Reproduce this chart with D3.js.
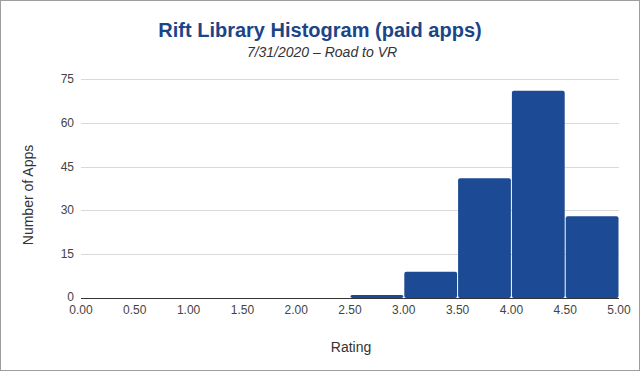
<!DOCTYPE html>
<html>
<head>
<meta charset="utf-8">
<script src="https://cdn.jsdelivr.net/npm/d3@7"></script>
<style>
  html, body { margin: 0; padding: 0; background: #fff; }
  svg { display: block; font-family: Arial, "Liberation Sans", sans-serif; }
</style>
</head>
<body>
<script>
const width = 640;
const height = 371;

// histogram bins (rating) and counts
const binStarts = [0, 0.5, 1.0, 1.5, 2.0, 2.5, 3.0, 3.5, 4.0, 4.5];
const binSize = 0.5;
const counts = [0, 0, 0, 0, 0, 1, 9, 41, 71, 28];
const yTicks = [0, 15, 30, 45, 60, 75];
const xTicks = [0, 0.5, 1, 1.5, 2, 2.5, 3, 3.5, 4, 4.5, 5];

const svg = d3.select("body")
  .append("svg")
  .attr("width", width)
  .attr("height", height);

// outer frame
svg.append("rect")
  .attr("x", 0.5).attr("y", 0.5)
  .attr("width", width - 1).attr("height", height - 1)
  .attr("fill", "#fff")
  .attr("stroke", "#9e9e9e");

const x = d3.scaleLinear().domain([0, 5]).range([81, 619]);
const y = d3.scaleLinear().domain([0, 75]).range([298, 79]);

// gridlines
svg.append("g")
  .selectAll("line")
  .data(yTicks.filter(d => d > 0))
  .enter()
  .append("line")
  .attr("x1", x(0)).attr("x2", x(5))
  .attr("y1", d => Math.round(y(d)) + 0.5)
  .attr("y2", d => Math.round(y(d)) + 0.5)
  .attr("stroke", "#d9d9d9");

// bars
const bars = binStarts.map((s, i) => ({ x0: s, x1: s + binSize, n: counts[i] }))
  .filter(d => d.n > 0);

svg.append("g")
  .selectAll("rect")
  .data(bars)
  .enter()
  .append("rect")
  .attr("x", d => x(d.x0) + 0.5)
  .attr("width", d => x(d.x1) - x(d.x0) - 1)
  .attr("y", d => y(d.n))
  .attr("height", d => y(0) - y(d.n))
  .attr("rx", 2)
  .attr("fill", "#1c4a94");

// baseline
svg.append("line")
  .attr("x1", x(0)).attr("x2", x(5))
  .attr("y1", y(0) + 0.5).attr("y2", y(0) + 0.5)
  .attr("stroke", "#333");

// y tick labels
svg.append("g")
  .selectAll("text")
  .data(yTicks)
  .enter()
  .append("text")
  .attr("x", 74)
  .attr("y", d => y(d) + (d === 0 ? 2.5 : 4))
  .attr("text-anchor", "end")
  .attr("font-size", 12)
  .attr("fill", "#444")
  .text(d => d);

// x tick labels
svg.append("g")
  .selectAll("text")
  .data(xTicks)
  .enter()
  .append("text")
  .attr("x", d => x(d))
  .attr("y", 314)
  .attr("text-anchor", "middle")
  .attr("font-size", 12)
  .attr("fill", "#444")
  .text(d => d3.format(".2f")(d));

// titles
svg.append("text")
  .attr("x", 320).attr("y", 37)
  .attr("text-anchor", "middle")
  .attr("font-size", 20)
  .attr("font-weight", "bold")
  .attr("fill", "#1c4587")
  .text("Rift Library Histogram (paid apps)");

svg.append("text")
  .attr("x", 322).attr("y", 57)
  .attr("text-anchor", "middle")
  .attr("font-size", 14)
  .attr("font-style", "italic")
  .attr("fill", "#333")
  .text("7/31/2020 \u2013 Road to VR");

// axis titles
svg.append("text")
  .attr("x", 351).attr("y", 352)
  .attr("text-anchor", "middle")
  .attr("font-size", 14)
  .attr("fill", "#333")
  .text("Rating");

svg.append("text")
  .attr("transform", "translate(33,195) rotate(-90)")
  .attr("text-anchor", "middle")
  .attr("font-size", 14)
  .attr("fill", "#333")
  .text("Number of Apps");
</script>
</body>
</html>
